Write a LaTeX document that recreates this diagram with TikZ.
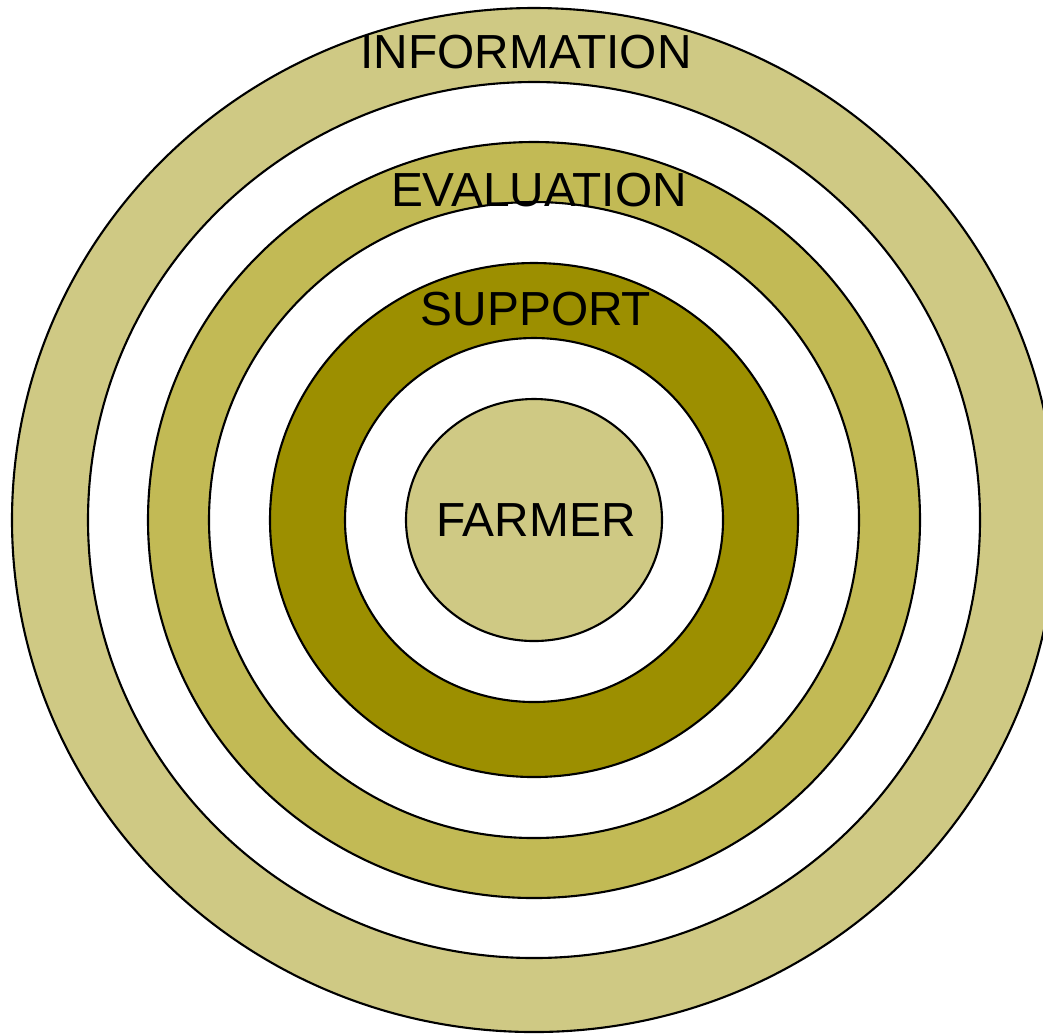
\documentclass[tikz,border=0pt]{standalone}
\usepackage{fontspec}
\setmainfont{Liberation Sans}
\definecolor{khakilight}{HTML}{CFC984}
\definecolor{khakimid}{HTML}{C2BA55}
\definecolor{olivedark}{HTML}{9C8F00}
\tikzset{
    ring/.style={draw=black, line width=0.6pt},
    label/.style={font=\fontsize{13.6pt}{15pt}\selectfont, inner sep=0pt}
}
\begin{document}
\begin{tikzpicture}[x=0.01cm, y=-0.01cm]
    \useasboundingbox (0, 0) rectangle (1043, 1035);
    \clip (0, 0) rectangle (1043, 1035);
    \coordinate (c) at (534, 520);

    \draw [ring, fill=khakilight] (c) ellipse [x radius=522, y radius=512];
    \draw [ring, fill=white] (c) ellipse [x radius=446, y radius=438];
    \draw [ring, fill=khakimid] (c) ellipse [x radius=386, y radius=378];
    \draw [ring, fill=white] (c) ellipse [x radius=325, y radius=318];
    \draw [ring, fill=olivedark] (c) ellipse [x radius=264, y radius=257];
    \draw [ring, fill=white] (c) ellipse [x radius=189, y radius=182];
    \draw [ring, fill=khakilight] (c) ellipse [x radius=128, y radius=121];

    \node [label] (info) at (526, 52) {INFORMATION};
    \node [label] (eval) at (539, 190) {EVALUATION};
    \node [label] (supp) at (536, 309) {SUPPORT};
    \node [label] (farm) at (536, 520) {FARMER};
\end{tikzpicture}
\end{document}
